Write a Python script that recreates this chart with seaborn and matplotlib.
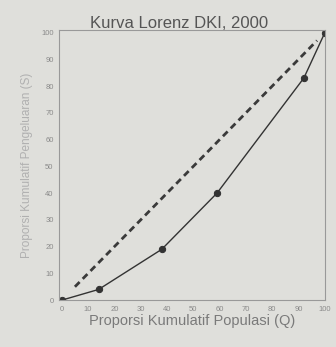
import seaborn as sns
import matplotlib.pyplot as plt
import pandas as pd

# kumulatif populasi (Q) dan pengeluaran (S)
q = [0, 14, 38, 59, 92, 100]
s = [0, 4, 19, 40, 83, 100]
garis_q = [5, 97]   # garis kemerataan (putus-putus)
garis_s = [5, 97]
ticks = [0, 10, 20, 30, 40, 50, 60, 70, 80, 90, 100]

sns.set_style("white")
plt.rcParams['font.family'] = ['Liberation Sans', 'DejaVu Sans']

bg = '#dfdfdb'
fig = plt.figure(figsize=(3.36, 3.47), dpi=100, facecolor=bg)
ax = fig.add_axes([0.176, 0.135, 0.791, 0.779], facecolor=bg)

df = pd.DataFrame({'Q': q, 'S': s})
sns.lineplot(data=df, x='Q', y='S', ax=ax, color='#333333', linewidth=1.0,
             marker='o', markersize=4.5, markeredgecolor='#333333')
sns.lineplot(x=garis_q, y=garis_s, ax=ax, color='#3a3a3a', linewidth=2.0,
             linestyle=(0, (2.4, 1.6)))

ax.set_xlim(-1, 100)
ax.set_ylim(0, 101)
ax.set_xticks(ticks)
ax.set_yticks(ticks)
ax.tick_params(labelsize=5.5, colors='#8a8a8a', length=0, pad=4)
for sp in ax.spines.values():
    sp.set_color('#999999')
    sp.set_linewidth(0.8)

ax.set_title('Kurva Lorenz DKI, 2000', fontsize=12, color='#555555', pad=1, x=0.45)
ax.set_xlabel('Proporsi Kumulatif Populasi (Q)', fontsize=10.5, color='#7a7a7a', labelpad=1)
ax.set_ylabel('Proporsi Kumulatif Pengeluaran (S)', fontsize=8.5, color='#b0b0b0', labelpad=6)

plt.savefig('out.png', dpi=100, facecolor=bg)
